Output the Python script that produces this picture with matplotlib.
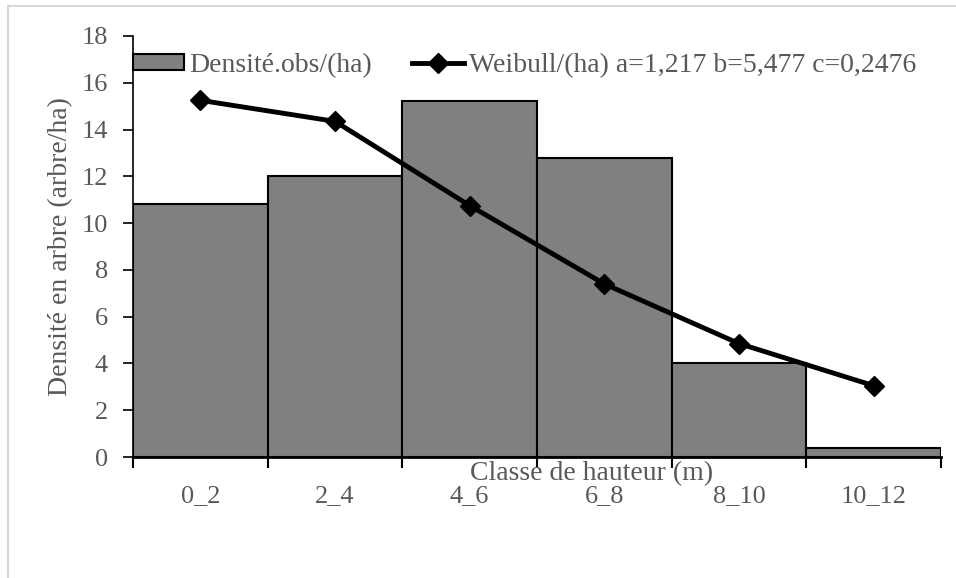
import matplotlib.pyplot as plt
import numpy as np
from matplotlib.patches import Rectangle

classes = ['0_2', '2_4', '4_6', '6_8', '8_10', '10_12']
dens_obs = [10.8, 12.0, 15.2, 12.8, 4.0, 0.4]
weibull = [15.25, 14.35, 10.75, 7.4, 4.85, 3.05]

plt.rcParams['font.family'] = ['Liberation Serif', 'DejaVu Serif']
txt = '#595959'
fs = 20

fig = plt.figure(figsize=(9.56, 5.78), dpi=100)
# chart frame (light grey, like the Excel chart area)
fig.patches.append(Rectangle((8/956, -0.1), 1.2, 1 - 6/578 + 0.1, transform=fig.transFigure,
                             fill=False, edgecolor='#d9d9d9', lw=1.5))
ax = fig.add_axes([133/956, 1 - 457/578, (941 - 133)/956, (457 - 36)/578])

x = np.arange(len(classes))
bars = ax.bar(x, dens_obs, width=1.0, color='#808080', edgecolor='black', lw=1.5,
              label='Densité.obs/(ha)', zorder=2)
line, = ax.plot(x, weibull, color='black', lw=3.5, marker='D', ms=10.5,
                label='Weibull/(ha) a=1,217 b=5,477 c=0,2476', zorder=3)

ax.set_xlim(-0.5, len(classes) - 0.5)
ax.set_ylim(0, 18)
ax.set_yticks(range(0, 19, 2))
ax.set_xticks(np.arange(-0.5, len(classes), 1.0))
ax.set_xticklabels([])
ax.set_xticks(x, minor=True)
ax.set_xticklabels(classes, minor=True)
ax.tick_params(axis='x', which='major', length=8, width=1.5, color='black')
ax.tick_params(axis='x', which='minor', length=0, pad=20, labelsize=19, labelcolor=txt)
ax.tick_params(axis='y', length=7, width=1.2, color='black', labelsize=19, labelcolor=txt, pad=11)

for s in ['top', 'right']:
    ax.spines[s].set_visible(False)
ax.spines['left'].set_linewidth(1.2)
ax.spines['bottom'].set_linewidth(2)
ax.spines['bottom'].set_zorder(4)

ax.set_ylabel('Densité en arbre (arbre/ha)', fontsize=fs, color=txt)
ax.yaxis.set_label_coords(-0.074, 0.5)
ax.text(0.567, -0.040, 'Classe de hauteur (m)', transform=ax.transAxes, ha='center', va='center',
        fontsize=fs, color=txt)

ax.legend(handles=[bars, line], loc='center left', bbox_to_anchor=(0.0, 16.75/18), ncol=2,
          frameon=False, fontsize=fs, labelcolor=txt, handlelength=1.84, handletextpad=0.2,
          columnspacing=1.44, borderaxespad=0, borderpad=0, handleheight=0.5)

fig.savefig('out.png', dpi=100, facecolor='white')
